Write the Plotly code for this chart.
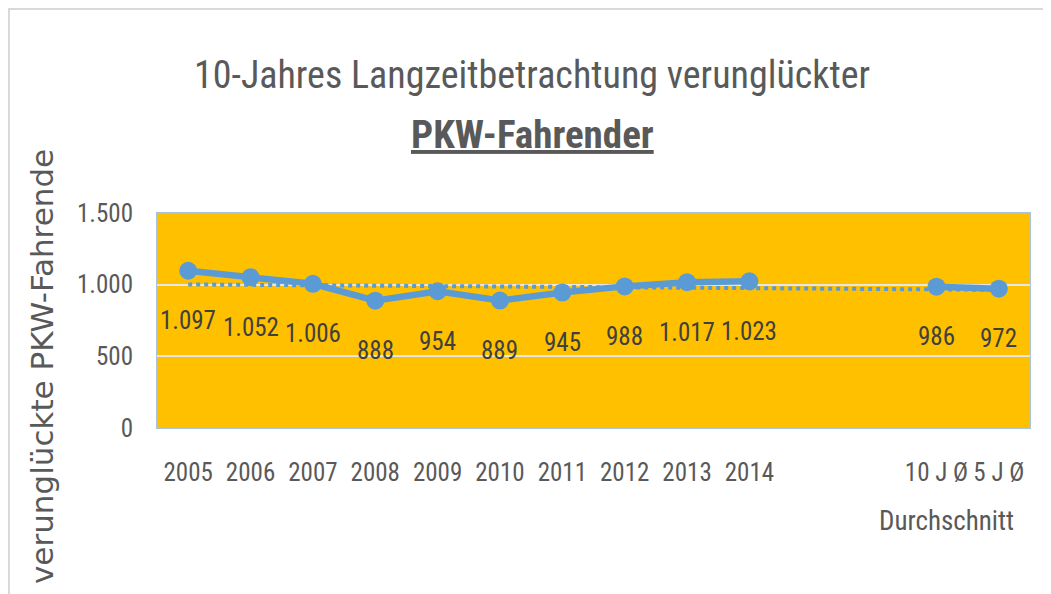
import numpy as np
import plotly.graph_objects as go

categories = ["2005", "2006", "2007", "2008", "2009", "2010", "2011", "2012", "2013", "2014",
              " ", "  ", "10 J Ø", "5 J Ø"]
values = [1097, 1052, 1006, 888, 954, 889, 945, 988, 1017, 1023, None, None, 986, 972]
y_ticks = [0, 500, 1000, 1500]

FONT = "Liberation Sans Narrow, Arial Narrow, Roboto Condensed, Liberation Sans, sans-serif"
GRAY = "#595959"
BLUE = "#5B9BD5"

# linear trendline over the category index (as Excel does)
idx = [i for i, v in enumerate(values) if v is not None]
vals = [values[i] for i in idx]
slope, icpt = np.polyfit(idx, vals, 1)
trend_y = [icpt + slope * i for i in range(len(categories))]

fig = go.Figure()
fig.add_trace(go.Scatter(
    x=categories, y=trend_y, mode="lines",
    line=dict(color=BLUE, width=4, dash="dot"),
    hoverinfo="skip", showlegend=False))
fig.add_trace(go.Scatter(
    x=categories, y=values, mode="lines+markers",
    line=dict(color=BLUE, width=6.5),
    marker=dict(color=BLUE, size=18),
    connectgaps=False, showlegend=False))

for i, v in enumerate(values):
    if v is None:
        continue
    fig.add_annotation(x=i, y=v, xref="x", yref="y",
                       text=f"{v:,}".replace(",", "."), showarrow=False,
                       yshift=-50, font=dict(family=FONT, size=25, color="#404040"))

fig.add_annotation(x=12.16, y=-0.433, xref="x", yref="paper", text="Durchschnitt",
                   showarrow=False, yanchor="middle",
                   font=dict(family=FONT, size=27, color=GRAY))

# title (two lines)
fig.add_annotation(x=0.43, y=(428 - 75) / 215, xref="paper", yref="paper",
                   text="10-Jahres Langzeitbetrachtung verunglückter", showarrow=False,
                   xanchor="center", yanchor="middle",
                   font=dict(family=FONT, size=38, color=GRAY))
fig.add_annotation(x=0.43, y=(428 - 135) / 215, xref="paper", yref="paper",
                   text="<b><u>PKW-Fahrender</u></b>", showarrow=False,
                   xanchor="center", yanchor="middle",
                   font=dict(family=FONT, size=39, color=GRAY))

# y axis title
fig.add_annotation(x=(42 - 157) / 873, y=(428 - 367) / 215, xref="paper", yref="paper",
                   text="verunglückte PKW-Fahrende", showarrow=False, textangle=-90,
                   xanchor="center", yanchor="middle",
                   font=dict(family="DejaVu Sans", size=31, color=GRAY))

# outer chart border
fig.add_shape(type="rect", xref="paper", yref="paper",
              x0=(9 - 157) / 873, x1=1.2, y0=-1.0, y1=(428 - 9) / 215,
              line=dict(color="#D9D9D9", width=2), fillcolor="rgba(0,0,0,0)", layer="below")

# page body adds an 8px offset; figure is sized so the plot area lands at 157..1030 x 213..428
fig.update_layout(
    width=1043, height=586,
    margin=dict(l=149, r=21, t=205, b=166, autoexpand=False),
    paper_bgcolor="white",
    plot_bgcolor="#FFC000",
    separators=",.",
    font=dict(family=FONT, color=GRAY),
    xaxis=dict(
        type="category", categoryorder="array", categoryarray=categories,
        range=[-0.5, len(categories) - 0.5], automargin=False,
        showgrid=False, showline=True, linecolor="#A9C4E0", linewidth=1, mirror=True,
        ticks="", tickfont=dict(family=FONT, size=25, color=GRAY), ticklabelstandoff=22),
    yaxis=dict(
        range=[0, 1500], tickvals=y_ticks, tickformat=",d", automargin=False,
        showgrid=True, gridcolor="#E6E6E6", gridwidth=1.5,
        showline=True, linecolor="#A9C4E0", linewidth=1, mirror=True,
        zeroline=False, ticks="", ticklabelstandoff=18,
        tickfont=dict(family=FONT, size=25, color=GRAY)),
)

fig.write_html("out.html")
